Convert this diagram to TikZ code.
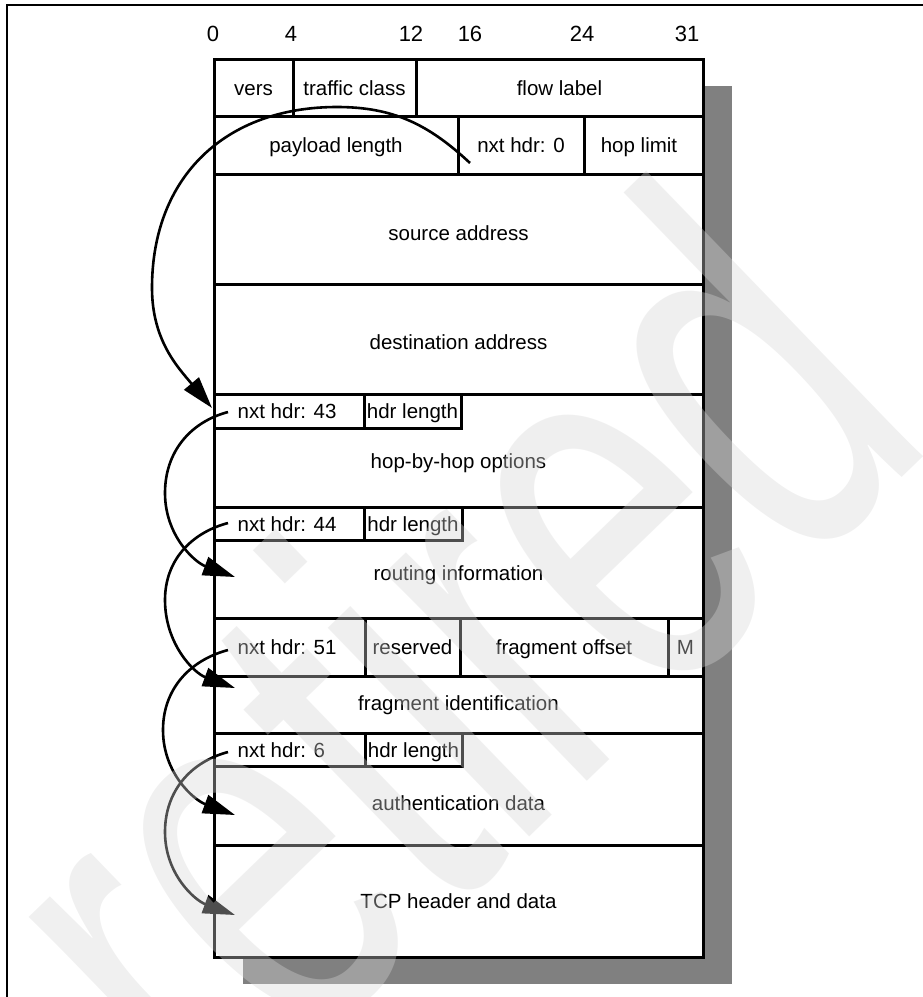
\documentclass[tikz,border=0pt]{standalone}
\usepackage{fontspec}
\setmainfont{Liberation Sans}
\usetikzlibrary{arrows.meta}
\definecolor{shadowgray}{RGB}{128,128,128}
\definecolor{wmgray}{RGB}{214,214,214}
\newcommand\cellat[6]{\node[cell,minimum width={(#4-#2)*1pt},minimum height={(#5-#3)*1pt}] (#1) at ({(#2+#4)/2},{-(#3+#5)/2}) {#6};}
\begin{document}
\begin{tikzpicture}[x=1pt,y=1pt,
  cell/.style={draw=black,fill=white,line width=3pt,inner sep=0pt,outer sep=0pt,text height=15pt,text depth=0pt,font=\fontsize{20.5}{24}\selectfont},
  lbl/.style={inner sep=0pt,anchor=base,font=\fontsize{20.5}{24}\selectfont},
  lblw/.style={inner sep=0pt,anchor=base west,font=\fontsize{20.5}{24}\selectfont},
  num/.style={inner sep=0pt,font=\fontsize{22}{26}\selectfont},
  conn/.style={line width=2.6pt,-{Triangle[length=32pt,width=19pt]}},
  frameline/.style={line width=1.5pt},
  wm/.style={anchor=base west,rotate=44,inner sep=0pt,text=wmgray,text opacity=0.37,font=\fontsize{549}{549}\selectfont}]
\useasboundingbox (0,0) rectangle (923,-997);
\draw[frameline] (7,-997) -- (7,-5) -- (923,-5);
\fill[shadowgray] (243,-86) rectangle (732,-984);
% bit numbers
\node[num] (b0) at (213,-34) {0};
\node[num] (b4) at (291,-34) {4};
\node[num] (b12) at (411,-34) {12};
\node[num] (b16) at (470,-34) {16};
\node[num] (b24) at (582,-34) {24};
\node[num] (b31) at (687,-34) {31};
% IPv6 header
\cellat{vers}{214}{59}{293}{116}{vers}
\cellat{tclass}{293}{59}{416}{116}{traffic class}
\cellat{flow}{416}{59}{703}{116}{flow label}
\cellat{payload}{214}{116}{458}{174}{payload length}
\cellat{nh0}{458}{116}{584}{174}{nxt hdr: 0}
\cellat{hoplim}{584}{116}{703}{174}{}
\node[lbl] (thop) at (639,-152.5) {hop limit};
\cellat{src}{214}{174}{703}{284}{}
\cellat{dst}{214}{284}{703}{394}{}
\node[lbl] (tsrc) at (458.5,-240) {source address};
\node[lbl] (tdst) at (458.5,-349) {destination address};
% hop-by-hop
\cellat{hbh}{214}{394}{703}{507}{}
\cellat{nh43}{214}{394}{364}{428}{}
\cellat{hl1}{364}{394}{461}{428}{hdr length}
\node[lblw] (t43) at (237.5,-418.5) {nxt hdr: 43};
\node[lbl] (thbh) at (458.5,-468) {hop-by-hop options};
% routing
\cellat{rout}{214}{507}{703}{618}{}
\cellat{nh44}{214}{507}{364}{540}{}
\cellat{hl2}{364}{507}{462}{540}{hdr length}
\node[lblw] (t44) at (237.5,-531) {nxt hdr: 44};
\node[lbl] (trout) at (458.5,-580) {routing information};
% fragment
\cellat{nh51}{214}{618}{365}{676}{}
\cellat{resv}{365}{618}{460}{676}{reserved}
\cellat{foff}{460}{618}{668}{676}{fragment offset}
\cellat{mflag}{668}{618}{703}{676}{M}
\node[lblw] (t51) at (237.5,-654.5) {nxt hdr: 51};
\cellat{fid}{214}{676}{703}{733}{}
\node[lbl] (tfid) at (458.5,-710) {fragment identification};
% authentication
\cellat{auth}{214}{733}{703}{845}{}
\cellat{nh6}{214}{733}{365}{766}{}
\cellat{hl3}{365}{733}{462}{766}{hdr length}
\node[lblw] (t6) at (237.5,-757) {nxt hdr: 6};
\node[lbl] (tauth) at (458.5,-810) {authentication data};
% TCP
\cellat{tcp}{214}{845}{703}{957}{}
\node[lbl] (ttcp) at (458.5,-908) {TCP header and data};
% connector points
\coordinate (s1) at (470,-163);
\coordinate (p1) at (337,-107);
\coordinate (l1) at (152,-288);
\coordinate (e1) at (212,-408);
\coordinate (s2) at (228,-412);
\coordinate (l2) at (165,-493);
\coordinate (e2) at (235,-577);
\coordinate (s3) at (228,-523);
\coordinate (l3) at (165,-600);
\coordinate (e3) at (235,-688);
\coordinate (s4) at (228,-650);
\coordinate (l4) at (163,-730);
\coordinate (e4) at (235,-815);
\coordinate (s5) at (228,-752);
\coordinate (l5) at (165,-832);
\coordinate (e5) at (235,-915);
\draw[conn] (s1) to[out=137,in=0] (p1) to[out=180,in=90,looseness=1.1] (l1) to[out=-90,in=130] (e1);
\draw[conn] (s2) to[out=195,in=90] (l2) to[out=-90,in=160] (e2);
\draw[conn] (s3) to[out=195,in=90] (l3) to[out=-90,in=160] (e3);
\draw[conn] (s4) to[out=195,in=90] (l4) to[out=-90,in=160] (e4);
\draw[conn] (s5) to[out=195,in=90] (l5) to[out=-90,in=160] (e5);
% watermark
\node[wm] (wmark) at (213,-1143) {\scalebox{0.65}[1]{retired}};
\end{tikzpicture}
\end{document}
